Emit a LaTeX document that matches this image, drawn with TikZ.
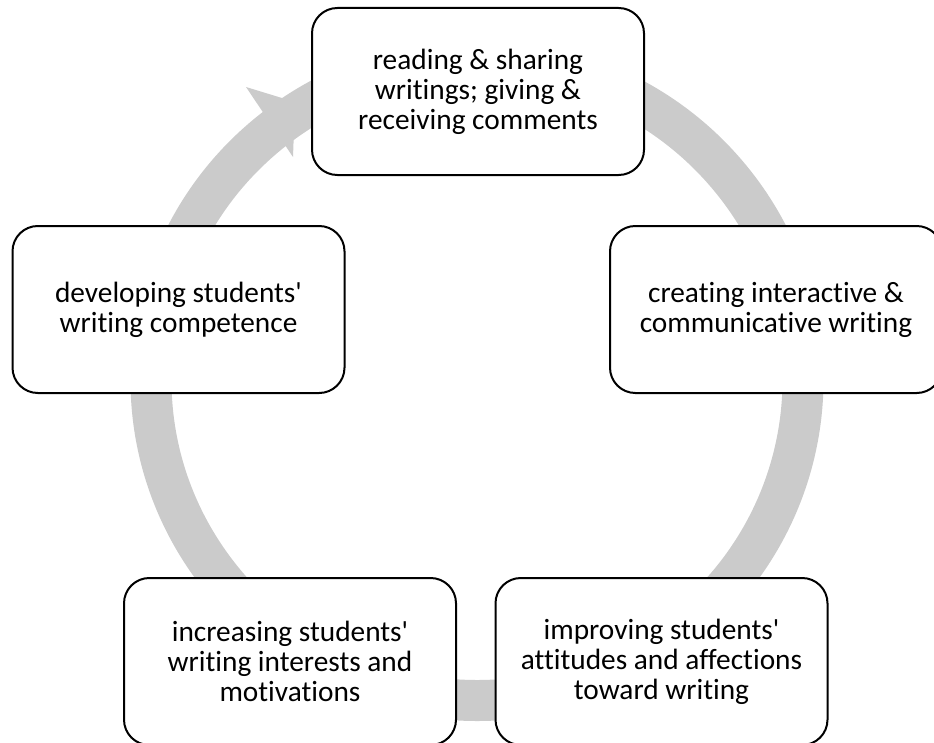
\documentclass[tikz,border=0pt]{standalone}
\usepackage{fontspec}
\setmainfont{Carlito}[Ligatures={NoCommon}]
\definecolor{ringgray}{HTML}{CBCBCB}
\begin{document}
\begin{tikzpicture}[x=0.75pt,y=-0.75pt,
	stage/.style={draw,line width=1.5pt,rounded corners=19pt,fill=white,align=center,inner sep=0pt,
		minimum width=249pt,minimum height=125.25pt,font=\fontsize{22}{22.5}\selectfont},
	ring/.style={draw=ringgray,line width=30.75pt}]
	\useasboundingbox (0,0) rectangle (934,742);

	% the cycle arrow behind the boxes
	\coordinate (c) at (477,380);
	\draw[ring] (c) ++(-127.5:326 and 320.5) arc[start angle=-127.5,end angle=275,x radius=326,y radius=320.5];
	\fill[ringgray] (246,87) -- (295,102) -- (293,157) -- cycle;

	\node[stage] (1) at (478,91.5) {reading \& sharing\\writings; giving \&\\receiving comments};
	\node[stage] (2) at (776,309.5) {creating interactive \&\\communicative writing};
	\node[stage] (3) at (661.5,661.5) {improving students\textquotesingle\\attitudes and affections\\toward writing};
	\node[stage] (4) at (290,661.5) {increasing students\textquotesingle\\writing interests and\\motivations};
	\node[stage] (5) at (178.5,309.5) {developing students\textquotesingle\\writing competence};
\end{tikzpicture}
\end{document}
